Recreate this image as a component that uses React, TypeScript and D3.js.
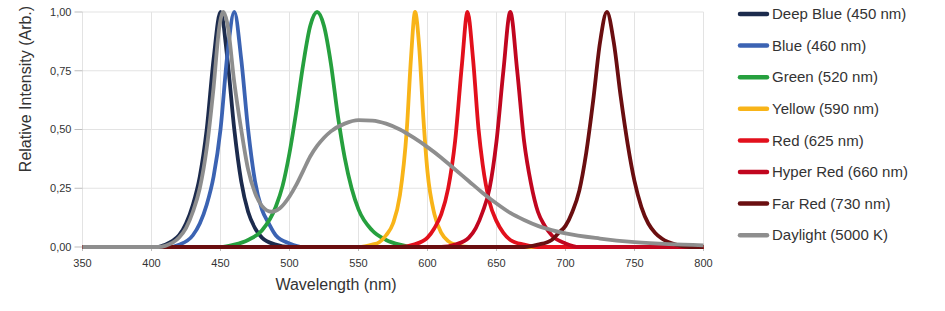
import React from "react";
import * as d3 from "d3";

const xTicks = [350, 400, 450, 500, 550, 600, 650, 700, 750, 800];
const yTicks = [0, 0.25, 0.5, 0.75, 1.0];
const yTickLabels = ["0,00", "0,25", "0,50", "0,75", "1,00"];

const seriesNames = [
  "Deep Blue (450 nm)",
  "Blue (460 nm)",
  "Green (520 nm)",
  "Yellow (590 nm)",
  "Red (625 nm)",
  "Hyper Red (660 nm)",
  "Far Red (730 nm)",
  "Daylight (5000 K)",
];
const seriesColors = ["#1c2b4d", "#3b63b3", "#26a03e", "#f8b418", "#e2101c", "#c1061f", "#6a0e10", "#8e8e8e"];

type P = [number, number];

const deepBlue: P[] = [[350, 0], [405, 0], [410, 0.01], [415, 0.025], [420, 0.05], [425, 0.1], [430, 0.18], [435, 0.3], [440, 0.5], [445, 0.8], [450, 1.0], [455, 0.8], [460, 0.5], [465, 0.28], [470, 0.15], [475, 0.08], [480, 0.04], [490, 0.01], [500, 0], [800, 0]];
const blue: P[] = [[350, 0], [412, 0], [420, 0.01], [430, 0.05], [435, 0.1], [440, 0.18], [445, 0.3], [450, 0.5], [455, 0.82], [460, 1.0], [465, 0.8], [470, 0.5], [475, 0.28], [480, 0.16], [485, 0.1], [490, 0.05], [500, 0.015], [510, 0], [800, 0]];
const green: P[] = [[350, 0], [450, 0], [460, 0.01], [470, 0.03], [480, 0.07], [490, 0.17], [495, 0.26], [500, 0.4], [505, 0.58], [510, 0.78], [515, 0.94], [520, 1.0], [525, 0.94], [530, 0.78], [535, 0.56], [540, 0.38], [545, 0.25], [550, 0.16], [560, 0.07], [570, 0.03], [580, 0.01], [590, 0], [800, 0]];
const yellow: P[] = [[350, 0], [550, 0], [560, 0.01], [565, 0.02], [570, 0.05], [575, 0.1], [580, 0.22], [585, 0.5], [588, 0.8], [591, 1.0], [594, 0.85], [597, 0.55], [600, 0.32], [605, 0.14], [610, 0.06], [615, 0.025], [620, 0.01], [630, 0], [800, 0]];
const red: P[] = [[350, 0], [580, 0], [590, 0.01], [600, 0.04], [605, 0.08], [610, 0.14], [615, 0.25], [620, 0.45], [625, 0.78], [629, 1.0], [633, 0.8], [637, 0.5], [640, 0.35], [645, 0.19], [650, 0.11], [655, 0.06], [660, 0.03], [670, 0.01], [680, 0], [800, 0]];
const hyperRed: P[] = [[350, 0], [610, 0], [620, 0.01], [630, 0.04], [635, 0.08], [640, 0.15], [645, 0.25], [650, 0.45], [655, 0.75], [660, 1.0], [665, 0.75], [670, 0.45], [675, 0.27], [680, 0.15], [685, 0.09], [690, 0.05], [700, 0.015], [710, 0], [800, 0]];
const farRed: P[] = [[350, 0], [670, 0], [680, 0.01], [690, 0.03], [695, 0.06], [700, 0.09], [705, 0.15], [710, 0.24], [715, 0.4], [720, 0.62], [725, 0.87], [730, 1.0], [735, 0.87], [740, 0.64], [745, 0.44], [750, 0.28], [755, 0.17], [760, 0.1], [765, 0.06], [770, 0.035], [780, 0.01], [790, 0], [800, 0]];
const daylight: P[] = [[350, 0], [405, 0], [410, 0.005], [420, 0.04], [425, 0.08], [430, 0.15], [435, 0.25], [440, 0.42], [445, 0.68], [449, 0.93], [452, 1.0], [455, 0.95], [460, 0.7], [465, 0.5], [470, 0.33], [475, 0.23], [480, 0.175], [487, 0.15], [493, 0.165], [500, 0.215], [505, 0.265], [510, 0.325], [515, 0.385], [520, 0.43], [525, 0.465], [530, 0.492], [540, 0.525], [550, 0.54], [560, 0.538], [570, 0.525], [580, 0.5], [590, 0.465], [600, 0.425], [610, 0.38], [620, 0.33], [630, 0.28], [640, 0.23], [650, 0.185], [660, 0.145], [670, 0.115], [680, 0.09], [690, 0.072], [700, 0.058], [725, 0.036], [750, 0.021], [775, 0.012], [800, 0.007]];

const seriesData = [deepBlue, blue, green, yellow, red, hyperRed, farRed, daylight];

export default function App() {
  const W = 945, H = 311;
  const x = d3.scaleLinear().domain([350, 800]).range([82.5, 703.5]);
  const y = d3.scaleLinear().domain([0, 1]).range([247, 12]);
  const line = d3.line<P>().x(d => x(d[0])).y(d => y(d[1])).curve(d3.curveMonotoneX);
  const font = "'Liberation Sans', Arial, sans-serif";
  return (
    <svg width={W} height={H} style={{ position: "absolute", left: 0, top: 0, background: "#fff" }} fontFamily={font}>
      {xTicks.map(t => (
        <line key={"gx" + t} x1={x(t)} x2={x(t)} y1={y(1)} y2={y(0)} stroke="#e3e3e3" strokeWidth={1} />
      ))}
      {yTicks.map(t => (
        <line key={"gy" + t} x1={x(350)} x2={x(800)} y1={y(t)} y2={y(t)} stroke="#e3e3e3" strokeWidth={1} />
      ))}
      <line x1={x(350)} x2={x(800)} y1={y(0)} y2={y(0)} stroke="#bdbdbd" strokeWidth={1} />
      {yTicks.map((t, i) => (
        <g key={"ty" + t}>
          <line x1={x(350) - 8} x2={x(350)} y1={y(t)} y2={y(t)} stroke="#bdbdbd" />
          <text x={x(350) - 11} y={y(t)} dy="0.35em" textAnchor="end" fontSize={11} fill="#333">{yTickLabels[i]}</text>
        </g>
      ))}
      {xTicks.map(t => (
        <g key={"tx" + t}>
          <line x1={x(t)} x2={x(t)} y1={y(0)} y2={y(0) + 4} stroke="#bdbdbd" />
          <text x={x(t)} y={y(0) + 20} textAnchor="middle" fontSize={11} fill="#333">{t}</text>
        </g>
      ))}
      {seriesData.map((s, i) => (
        <path key={"s" + i} d={line(s) || ""} fill="none" stroke={seriesColors[i]} strokeWidth={3.8} strokeLinejoin="round" />
      ))}
      <text transform={`translate(31,${89}) rotate(-90)`} textAnchor="middle" fontSize={16} fill="#333">Relative Intensity (Arb.)</text>
      <text x={336} y={290} textAnchor="middle" fontSize={16} fill="#333">Wavelength (nm)</text>
      {seriesNames.map((n, i) => {
        const ly = 14 + i * 31.6;
        return (
          <g key={"l" + i}>
            <line x1={740} x2={767} y1={ly} y2={ly} stroke={seriesColors[i]} strokeWidth={4.5} strokeLinecap="round" />
            <text x={772} y={ly} dy="0.35em" fontSize={15} fill="#333">{n}</text>
          </g>
        );
      })}
    </svg>
  );
}
